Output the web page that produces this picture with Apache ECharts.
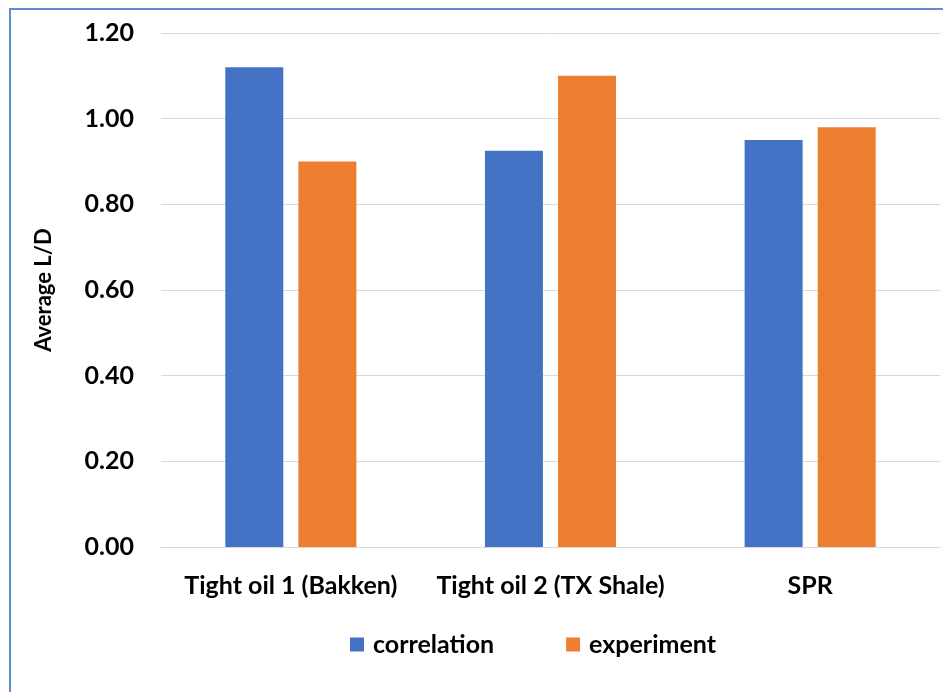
<!DOCTYPE html>
<html>
<head>
<meta charset="utf-8">
<script src="https://cdn.jsdelivr.net/npm/echarts@6/dist/echarts.min.js"></script>
<style>
  html, body { margin: 0; padding: 0; background: #fff; }
  #chart { width: 943px; height: 692px; }
</style>
</head>
<body>
<div id="chart"></div>
<script>
// data
const categories = ['Tight oil 1 (Bakken)', 'Tight oil 2 (TX Shale)', 'SPR']
const correlation = [1.12, 0.925, 0.95]
const experiment = [0.90, 1.10, 0.98]
const seriesNames = ['correlation', 'experiment']

const font = 'Lato, "Open Sans", sans-serif'

const chart = echarts.init(document.getElementById('chart'))

const options = {
    animation: false,
    backgroundColor: '#fff',
    // outer frame of the chart area
    graphic: [{
        type: 'rect',
        shape: { x: 10, y: 9, width: 960, height: 720 },
        style: { fill: 'none', stroke: '#5b8dd0', lineWidth: 2 },
        silent: true
    }],
    grid: {
        left: 161,
        right: 3,
        top: 33,
        bottom: 145
    },
    legend: {
        data: seriesNames,
        bottom: 30,
        left: 345,
        itemWidth: 14,
        itemHeight: 14,
        itemGap: 72,
        icon: 'rect',
        textStyle: {
            color: '#000', fontSize: 25, fontWeight: 'bold', fontFamily: font,
            padding: [0, 0, 0, 4]
        }
    },
    xAxis: {
        type: 'category',
        data: categories,
        axisLine: { lineStyle: { color: '#d9d9d9', width: 1 } },
        axisTick: { show: false },
        axisLabel: {
            color: '#000',
            fontSize: 25,
            fontWeight: 'bold',
            fontFamily: font,
            margin: 26,
            interval: 0,
            hideOverlap: false
        }
    },
    yAxis: {
        type: 'value',
        min: 0,
        max: 1.2,
        interval: 0.2,
        name: 'Average L/D',
        nameLocation: 'middle',
        nameGap: 106,
        nameTextStyle: { color: '#000', fontSize: 22, fontWeight: 'bold', fontFamily: font },
        axisLine: { show: false },
        axisTick: { show: false },
        splitLine: { lineStyle: { color: '#d9d9d9', width: 1 } },
        axisLabel: {
            color: '#000',
            fontSize: 25,
            fontWeight: 'bold',
            fontFamily: font,
            margin: 27,
            formatter: v => v.toFixed(2)
        }
    },
    series: [
        {
            name: seriesNames[0],
            type: 'bar',
            data: correlation,
            barWidth: 58,
            barGap: '26%',
            itemStyle: { color: '#4472c4' }
        },
        {
            name: seriesNames[1],
            type: 'bar',
            data: experiment,
            barWidth: 58,
            barGap: '26%',
            itemStyle: { color: '#ed7d31' }
        }
    ]
}

chart.setOption(options)
</script>
</body>
</html>
